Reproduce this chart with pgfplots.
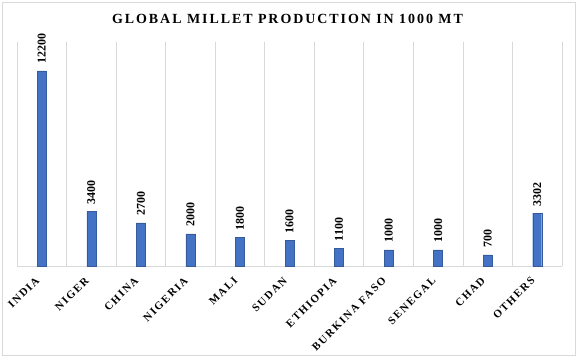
\documentclass[border=0pt]{standalone}
\usepackage{fontspec}
\setmainfont{Liberation Serif}
\newfontfamily\spaced[LetterSpace=14]{Liberation Serif}
\newfontfamily\lblspaced[LetterSpace=15]{Liberation Serif}
\usepackage{pgfplots}
\pgfplotsset{compat=1.18}
\definecolor{barblue}{HTML}{4472C4}
\definecolor{gridgray}{HTML}{D9D9D9}
\begin{document}
\begin{tikzpicture}
\begin{axis}[
  at={(17bp,93bp)}, anchor=south west,
  scale only axis, width=545bp, height=224bp,
  xmin=-0.5, xmax=10.5, ymin=0, ymax=14000,
  axis x line=bottom, axis y line=none,
  x axis line style={gridgray, -, line width=0.8pt},
  ytick=\empty,
  xtick={0,...,10},
  xticklabels={INDIA,NIGER,CHINA,NIGERIA,MALI,SUDAN,ETHIOPIA,BURKINA FASO,SENEGAL,CHAD,OTHERS},
  xticklabel style={xshift=-7bp, yshift=-10bp, rotate=45, anchor=north east, font=\lblspaced\bfseries\fontsize{11}{12}\selectfont, inner sep=0pt},
  major tick length=0pt,
  minor xtick={-0.5,0.5,...,10.5},
  minor grid style={gridgray, line width=0.8pt},
  xminorgrids=true,
  minor tick length=0pt,
  ybar, bar width=9bp,
  point meta=explicit symbolic,
  nodes near coords,
  every node near coord/.append style={rotate=90, anchor=west, font=\bfseries\fontsize{12}{14}\selectfont, inner xsep=7bp, inner ysep=2bp},
  title={\spaced\bfseries\fontsize{14}{16}\selectfont GLOBAL MILLET PRODUCTION IN 1000 MT},
  title style={yshift=9bp, xshift=-2bp},
  clip=false,
]
\addplot[fill=barblue, draw=barblue!80!black, line width=0.3pt] coordinates {
(0,12200)[12200] (1,3400)[3400] (2,2700)[2700] (3,2000)[2000] (4,1800)[1800] (5,1600)[1600] (6,1100)[1100] (7,1000)[1000] (8,1000)[1000] (9,700)[700] (10,3302)[3302]
};
\end{axis}
\draw[gridgray, line width=0.8pt] (2bp,4bp) rectangle (575bp,357bp);
\pgfresetboundingbox
\path[use as bounding box] (0,0) rectangle (578bp,359bp);
\end{tikzpicture}
\end{document}
